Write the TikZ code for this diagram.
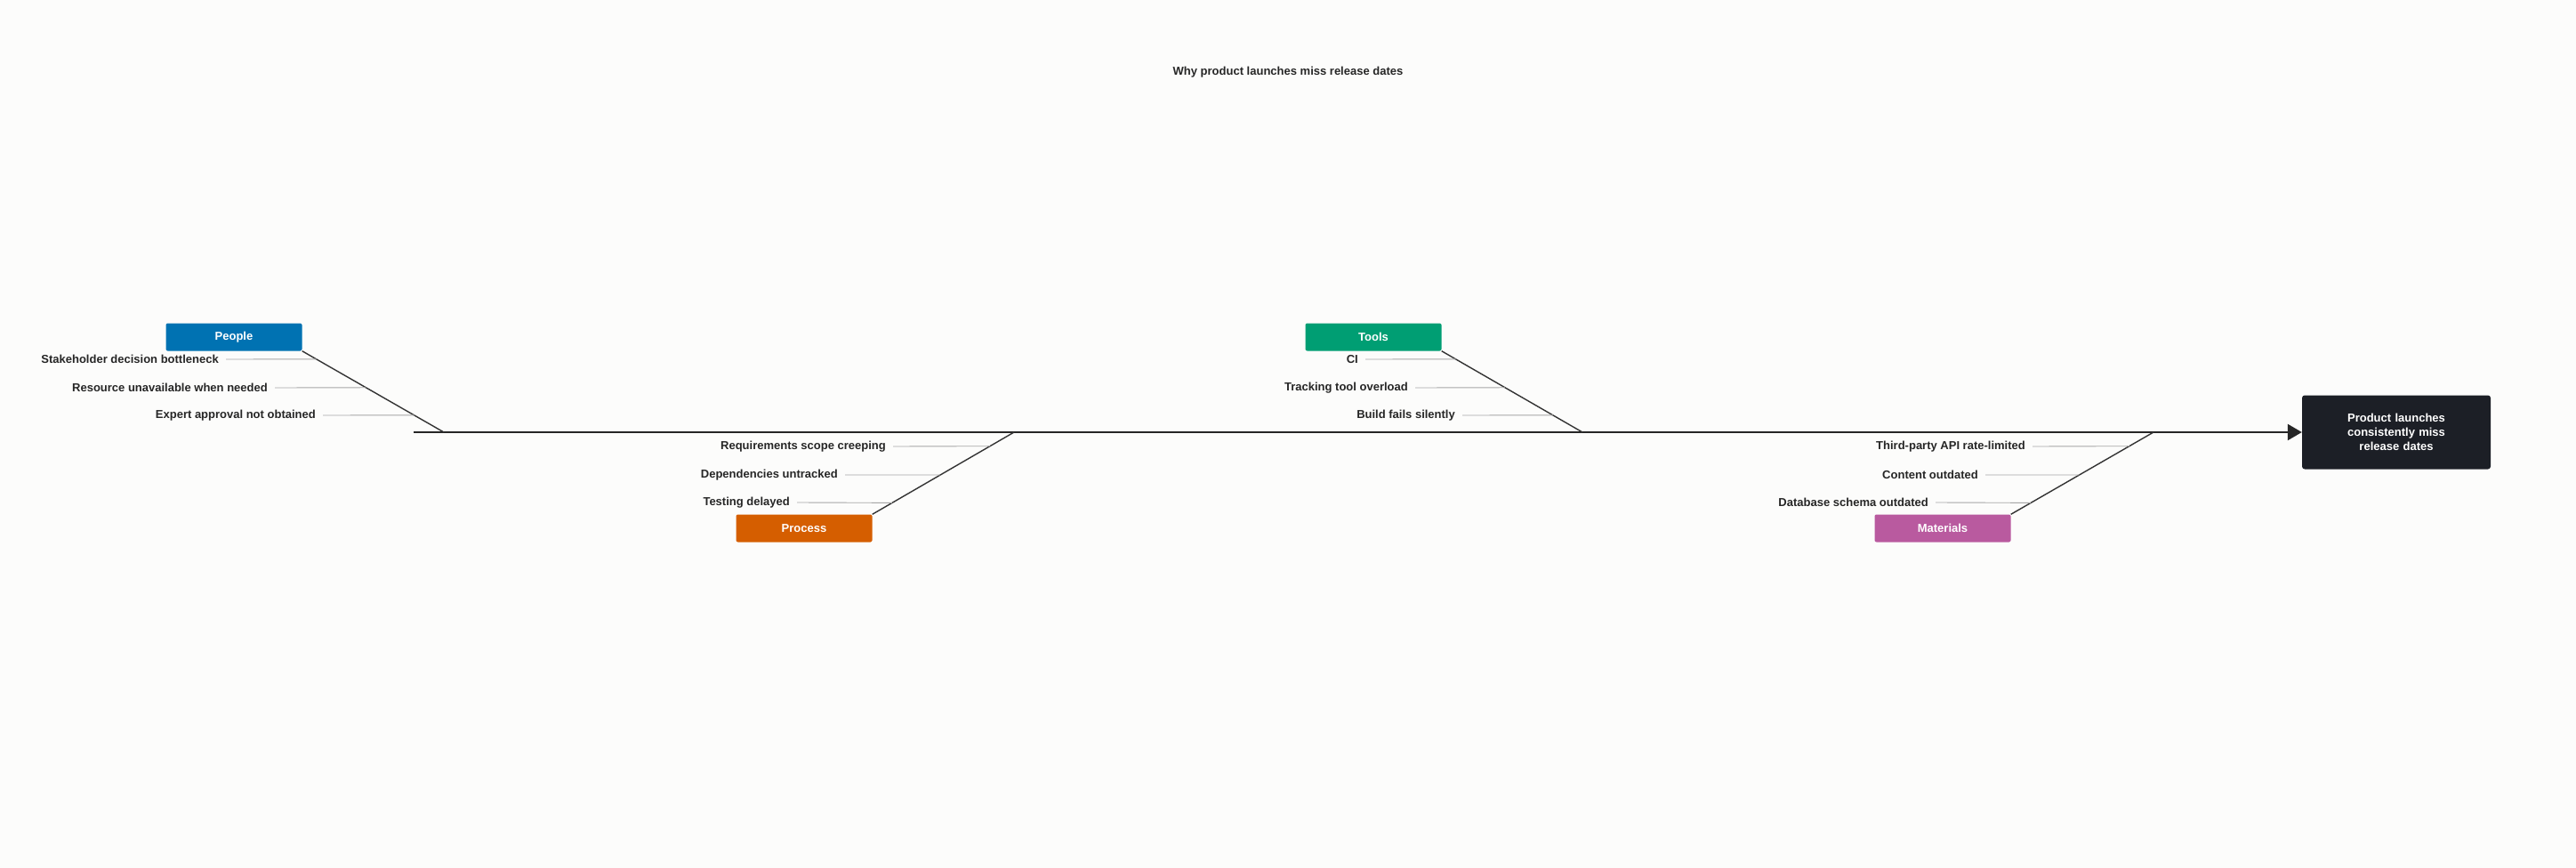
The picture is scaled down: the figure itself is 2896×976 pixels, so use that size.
\documentclass[tikz,border=0pt]{standalone}
\usepackage{fontspec}
\setmainfont{Liberation Sans}
\usetikzlibrary{calc,arrows.meta}
\definecolor{bgcol}{HTML}{FCFCFB}
\definecolor{peoplecol}{HTML}{0072B2}
\definecolor{toolscol}{HTML}{009E73}
\definecolor{processcol}{HTML}{D55E00}
\definecolor{matcol}{HTML}{B95A9F}
\definecolor{effectcol}{HTML}{1C1F26}
\tikzset{
  txt/.style={font=\fontsize{13}{16}\selectfont\bfseries, text=black!85},
  cat/.style={txt, text=white, rounded corners=2pt, minimum width=153pt, minimum height=31pt, inner sep=0pt},
  cause/.style={txt, anchor=east, inner sep=0pt},
  tick/.style={draw=gray!70, line width=0.9pt},
  bone/.style={draw=black!80, line width=1.4pt}
}
\begin{document}
\begin{tikzpicture}[x=1pt, y=-1pt]
\fill[bgcol] (0,0) rectangle (2896,976);
\useasboundingbox (0,0) rectangle (2896,976);

\node[txt] (title) at (1448,81) {Why product launches miss release dates};

% effect and spine
\node[fill=effectcol, rounded corners=3pt, minimum width=212pt, minimum height=83pt, inner sep=0pt, text width=190pt, align=center, txt, text=white] (E) at (2694,486) {Product launches\\consistently miss\\release dates};
\coordinate (S0) at (465,486);
\draw[line width=2.4pt, black!85, -{Triangle[length=16pt,width=18pt]}] (S0) -- (E.west);

% categories
\node[cat, fill=peoplecol] (P) at (263,379) {People};
\node[cat, fill=toolscol] (T) at (1544,379) {Tools};
\node[cat, fill=processcol] (R) at (904,594) {Process};
\node[cat, fill=matcol] (M) at (2184,594) {Materials};

\coordinate (Pj) at (499,486);
\coordinate (Tj) at (1779,486);
\coordinate (Rj) at (1140,486);
\coordinate (Mj) at (2421,486);

\draw[bone] (P.south east) -- (Pj);
\draw[bone] (T.south east) -- (Tj);
\draw[bone] (R.north east) -- (Rj);
\draw[bone] (M.north east) -- (Mj);

% causes above the spine
\foreach \t/\y/\x/\lab [count=\i] in {0.10/404/246/Stakeholder decision bottleneck, 0.45/436/301/Resource unavailable when needed, 0.79/467/355/Expert approval not obtained}{
  \node[cause] (Pc\i) at (\x,\y) {\lab};
  \draw[tick] ($(Pc\i.east)+(8,0)$) -- ($(P.south east)!\t!(Pj)$);
}
\foreach \t/\y/\x/\lab [count=\i] in {0.10/404/1527/CI/CD Pipeline Breakage, 0.45/436/1583/Tracking tool overload, 0.79/467/1636/Build fails silently}{
  \node[cause] (Tc\i) at (\x,\y) {\lab};
  \draw[tick] ($(Tc\i.east)+(8,0)$) -- ($(T.south east)!\t!(Tj)$);
}

% causes below the spine
\foreach \t/\y/\x/\lab [count=\i] in {0.17/502/996/Requirements scope creeping, 0.52/534/942/Dependencies untracked, 0.86/565/888/Testing delayed}{
  \node[cause] (Rc\i) at (\x,\y) {\lab};
  \draw[tick] ($(Rc\i.east)+(8,0)$) -- ($(Rj)!\t!(R.north east)$);
}
\foreach \t/\y/\x/\lab [count=\i] in {0.17/502/2277/Third-party API rate-limited, 0.52/534/2224/Content outdated, 0.86/565/2168/Database schema outdated}{
  \node[cause] (Mc\i) at (\x,\y) {\lab};
  \draw[tick] ($(Mc\i.east)+(8,0)$) -- ($(Mj)!\t!(M.north east)$);
}
\end{tikzpicture}
\end{document}
